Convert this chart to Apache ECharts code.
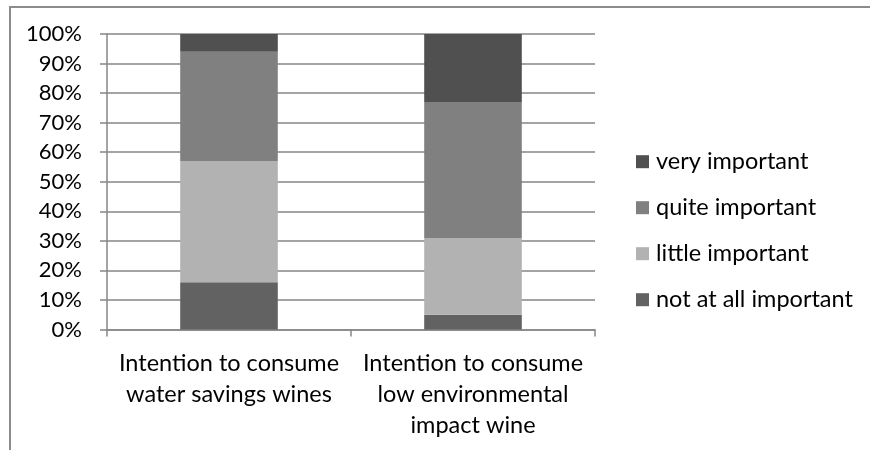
<!DOCTYPE html>
<html>
<head>
<meta charset="utf-8">
<script src="https://cdn.jsdelivr.net/npm/echarts@6/dist/echarts.min.js"></script>
<style>
  html, body { margin: 0; padding: 0; background: #fff; }
  #chart { width: 870px; height: 450px; }
</style>
</head>
<body>
<div id="chart"></div>
<script>
// Survey categories (x axis)
var categories = [
  'Intention to consume\nwater savings wines',
  'Intention to consume\nlow environmental\nimpact wine'
];

// Share of respondents per answer, in percent (stacked bottom to top)
var notAtAllImportant = [16, 5];
var littleImportant   = [41, 26];
var quiteImportant    = [37, 46];
var veryImportant     = [6, 23];

// Legend order, top to bottom
var legendOrder = ['very important', 'quite important', 'little important', 'not at all important'];

var FONT = 'Lato';
var TICK_SIZE = 22;
var TEXT_SIZE = 23.5;

function barSeries(name, values, color) {
  return {
    name: name,
    type: 'bar',
    stack: 'total',
    data: values,
    barWidth: '40%',
    itemStyle: { color: color },
    emphasis: { disabled: true }
  };
}

var chart = echarts.init(document.getElementById('chart'), null, { renderer: 'canvas' });

chart.setOption({
  animation: false,
  backgroundColor: '#ffffff',
  textStyle: { fontFamily: FONT },
  graphic: [{
    type: 'rect',
    shape: { x: 10, y: 7, width: 900, height: 500 },
    style: { fill: 'none', stroke: '#8c8c8c', lineWidth: 2 },
    silent: true,
    z: -1
  }],
  grid: { left: 107, top: 34, right: 275, bottom: 120.5, containLabel: false },
  legend: {
    orient: 'vertical',
    left: 631,
    top: 143.7,
    data: legendOrder,
    itemWidth: 13,
    itemHeight: 13,
    itemGap: 20,
    icon: 'rect',
    selectedMode: false,
    textStyle: {
      fontFamily: FONT,
      fontSize: TEXT_SIZE,
      color: '#000',
      lineHeight: 26,
      padding: [0, 0, 0, 2]
    }
  },
  xAxis: {
    type: 'category',
    data: categories,
    axisLine: { show: true, lineStyle: { color: '#868686', width: 1.5 } },
    axisTick: { show: true, length: 7, lineStyle: { color: '#868686', width: 1.5 } },
    axisLabel: {
      fontFamily: FONT,
      fontSize: TEXT_SIZE,
      color: '#000',
      lineHeight: 31,
      margin: 18,
      align: 'center',
      interval: 0
    },
    splitLine: { show: false }
  },
  yAxis: {
    type: 'value',
    min: 0,
    max: 100,
    interval: 10,
    axisLine: { show: true, lineStyle: { color: '#868686', width: 1.5 } },
    axisTick: { show: true, length: 7, lineStyle: { color: '#868686', width: 1.5 } },
    axisLabel: {
      formatter: '{value}%',
      fontFamily: FONT,
      fontSize: TICK_SIZE,
      color: '#000',
      margin: 25
    },
    splitLine: { show: true, lineStyle: { color: '#868686', width: 1.5 } }
  },
  series: [
    barSeries('not at all important', notAtAllImportant, '#626262'),
    barSeries('little important', littleImportant, '#b2b2b2'),
    barSeries('quite important', quiteImportant, '#808080'),
    barSeries('very important', veryImportant, '#505050')
  ]
});
</script>
</body>
</html>
